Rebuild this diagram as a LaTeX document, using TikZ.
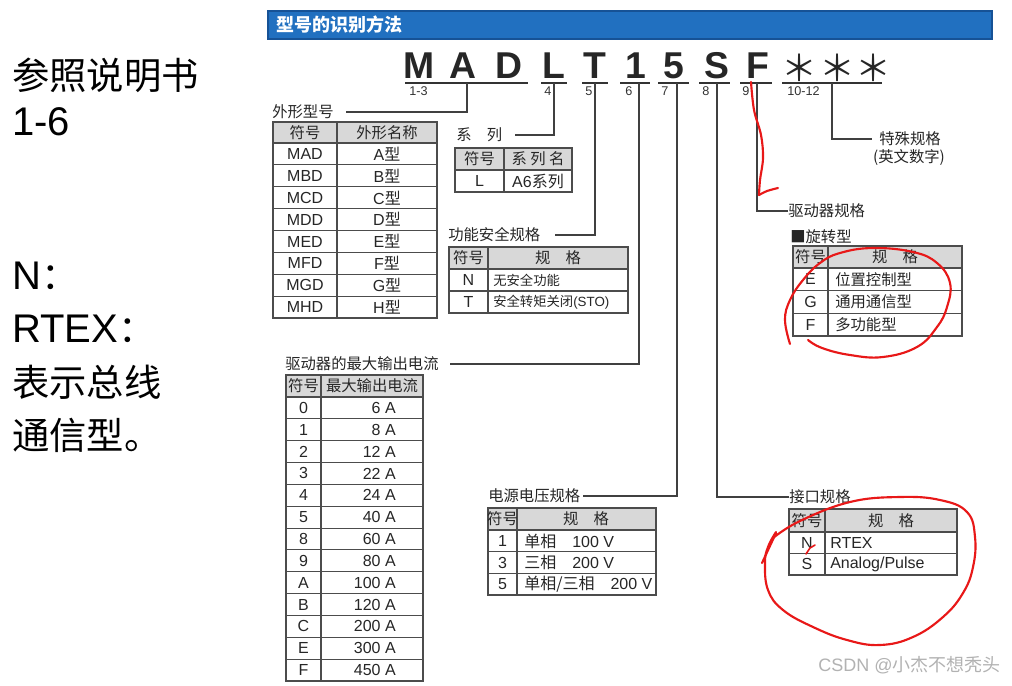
\documentclass[tikz,border=0pt]{standalone}
\usepackage{fontspec}
\setmainfont{Liberation Sans}
\newfontfamily\cjk{Noto Sans CJK SC}
\newcommand{\zh}[1]{{\cjk #1}}
\definecolor{hdrblue}{RGB}{33,112,192}
\definecolor{hdredge}{RGB}{22,82,150}
\definecolor{headgray}{RGB}{216,216,216}
\definecolor{penred}{RGB}{232,24,24}
\newcommand{\drawtab}[7]{%
  \fill[headgray] (#1,#4) rectangle (#3,#5);
  \foreach \k in {0,...,#7}{\draw[rowline] (#1,{#5+\k*#6}) -- (#3,{#5+\k*#6});}
  \draw[rowline] (#2,#4) -- (#2,{#5+#7*#6});
  \draw[tabframe] (#1,#4) rectangle (#3,{#5+#7*#6});
}
\tikzset{
  lbl/.style={inner sep=0pt, font=\fontsize{11.5}{13}\selectfont\cjk, text=black!85},
  cell/.style={inner sep=0pt, font=\fontsize{11.5}{13}\selectfont\cjk, text=black!85},
  scell/.style={inner sep=0pt, font=\fontsize{10}{12}\selectfont\cjk, text=black!85},
  lcell/.style={inner sep=0pt, font=\fontsize{12}{14}\selectfont, text=black!85},
  bigch/.style={inner sep=0pt, font=\fontsize{28}{30}\selectfont\bfseries, text=black!85, anchor=base},
  star/.style={inner sep=0pt, font=\fontsize{27}{30}\selectfont\cjk, text=black!85, anchor=base},
  num/.style={inner sep=0pt, font=\fontsize{9.5}{11}\selectfont, text=black!80, anchor=west},
  uline/.style={draw=black!80, line width=1.5pt},
  leader/.style={draw=black!75, line width=1.1pt},
  rowline/.style={draw=black!70, line width=0.8pt},
  tabframe/.style={draw=black!70, line width=1.2pt},
  side/.style={inner sep=0pt, anchor=west, font=\fontsize{30}{32}\selectfont, text=black},
  redpen/.style={draw=penred, line width=1.6pt, line cap=round, line join=round},
}
\begin{document}
\begin{tikzpicture}[x=0.75pt,y=-0.75pt]
\useasboundingbox (0,0) rectangle (1012,685);
\fill[white] (0,0) rectangle (1012,685);

% header bar
\fill[hdrblue] (268,11) rectangle (992,39);
\draw[hdredge, line width=0.8pt] (268,11) rectangle (992,39);
\node[inner sep=0pt, anchor=west, text=white, font=\fontsize{13.5}{15}\selectfont\cjk\bfseries] (title) at (276,25) {型号的识别方法};

% left notes
\node[side] (s1) at (12,75) {\fontsize{28}{30}\selectfont\cjk 参照说明书};
\node[side] (s2) at (12,122) {1-6};
\node[side] (s3) at (12,276) {N\zh{\fontsize{28}{30}\selectfont ：}};
\node[side] (s4) at (12,329) {RTEX\zh{\fontsize{28}{30}\selectfont ：}};
\node[side] (s5) at (12,382) {\fontsize{28}{30}\selectfont\cjk 表示总线};
\node[side] (s6) at (12,435) {\fontsize{28}{30}\selectfont\cjk 通信型。};

% model code
\node[bigch] (cM) at (419,79) {M};
\node[bigch] (cA) at (463,79) {A};
\node[bigch] (cD) at (509,79) {D};
\node[bigch] (cL) at (554,79) {L};
\node[bigch] (cT) at (595,79) {T};
\node[bigch] (c1) at (636,79) {1};
\node[bigch] (c5) at (674,79) {5};
\node[bigch] (cS) at (717,79) {S};
\node[bigch] (cF) at (758,79) {F};
\node[star] (cx1) at (799,81) {＊};
\node[star] (cx2) at (837,81) {＊};
\node[star] (cx3) at (873,81) {＊};

% underlines
\draw[uline] (405,83) -- (528,83);
\draw[uline] (541,83) -- (567,83);
\draw[uline] (582,83) -- (608,83);
\draw[uline] (620,83) -- (650,83);
\draw[uline] (658,83) -- (689,83);
\draw[uline] (699,83) -- (730,83);
\draw[uline] (740,83) -- (772,83);
\draw[uline] (782,83) -- (882,83);

\node[num] (n13) at (409,91) {1-3};
\node[num] (n4) at (544,91) {4};
\node[num] (n5) at (585,91) {5};
\node[num] (n6) at (625,91) {6};
\node[num] (n7) at (661,91) {7};
\node[num] (n8) at (702,91) {8};
\node[num] (n9) at (742,91) {9};
\node[num] (n10) at (787,91) {10-12};

\coordinate (u13) at (467,83);
\coordinate (u4) at (554,83);
\coordinate (u5) at (595,83);
\coordinate (u6) at (639,83);
\coordinate (u7) at (677,83);
\coordinate (u8) at (717,83);
\coordinate (u9) at (757,83);
\coordinate (u10) at (832,83);

% labels
\node[lbl, anchor=west] (lab1) at (272,112) {外形型号};
\node[lbl, anchor=west] (lab4) at (456,135) {系　列};
\node[lbl, anchor=west] (lab5) at (448,235) {功能安全规格};
\node[lbl, anchor=west] (lab6) at (285,364) {驱动器的最大输出电流};
\node[lbl, anchor=west] (lab7) at (488,496) {电源电压规格};
\node[lbl, anchor=west] (lab8) at (789,497) {接口规格};
\node[lbl, anchor=west] (lab9) at (788,211) {驱动器规格};
\node[lbl] (lab10a) at (910,139) {特殊规格};
\node[lbl] (lab10b) at (909,158) {(英文数字)};
\node[lbl, anchor=west] (labrot) at (790,237) {■旋转型};

\draw[leader] (u13) |- ([xshift=9pt]lab1.east);
\draw[leader] (u4) |- ([xshift=9pt]lab4.east);
\draw[leader] (u5) |- ([xshift=11pt]lab5.east);
\draw[leader] (u6) |- ([xshift=8pt]lab6.east);
\draw[leader] (u7) |- ([xshift=2pt]lab7.east);
\draw[leader] (u8) |- (lab8.west);
\draw[leader] (u9) |- (lab9.west);
\draw[leader] (u10) |- ([xshift=-5pt]lab10a.west);

% table: outer shape
\drawtab{273}{337}{437}{122}{143}{21.9}{8}
\node[cell] (ah1) at (305,132.5) {符号};
\node[cell] (ah2) at (387,132.5) {外形名称};
\foreach \a/\b [count=\i] in {MAD/A,MBD/B,MCD/C,MDD/D,MED/E,MFD/F,MGD/G,MHD/H}{
  \node[lcell] (aa\i) at (305,{143+21.9*(\i-0.5)}) {\a};
  \node[lcell] (ab\i) at (387,{143+21.9*(\i-0.5)}) {\b\zh{型}};
}

% table: series
\drawtab{455}{504}{572}{148}{170}{22}{1}
\node[cell] (bh1) at (479.5,159) {符号};
\node[cell] (bh2) at (538,159) {系 列 名};
\node[lcell] (ba1) at (479.5,181) {L};
\node[lcell] (bb1) at (538,181) {A6\zh{系列}};

% table: safety
\drawtab{449}{488}{628}{247}{269}{22}{2}
\node[cell] (fh1) at (468.5,258) {符号};
\node[cell] (fh2) at (558,258) {规　格};
\node[lcell] (fa1) at (468.5,280) {N};
\node[scell, anchor=west] (fb1) at (493,280) {无安全功能};
\node[lcell] (fa2) at (468.5,302) {T};
\node[scell, anchor=west] (fb2) at (493,302) {安全转矩关闭\fontspec{Liberation Sans}(STO)};

% table: max current
\drawtab{286}{321}{423}{375}{397}{21.85}{13}
\node[cell] (ih1) at (303.5,386) {符号};
\node[cell] (ih2) at (372,386) {最大输出电流};
\foreach \a/\b [count=\i] in {0/6,1/8,2/12,3/22,4/24,5/40,8/60,9/80,A/100,B/120,C/200,E/300,F/450}{
  \node[lcell] (ia\i) at (303.5,{397+21.85*(\i-0.5)}) {\a};
  \node[lcell, anchor=east] (ib\i) at (396,{397+21.85*(\i-0.5)}) {\b\ A};
}

% table: supply voltage
\drawtab{488}{517}{656}{508}{530}{21.7}{3}
\node[cell] (vh1) at (502.5,519) {符号};
\node[cell] (vh2) at (586,519) {规　格};
\node[lcell] (va1) at (502.5,541) {1};
\node[lcell, anchor=west] (vb1) at (524,541) {\zh{单相}\quad 100 V};
\node[lcell] (va2) at (502.5,562.5) {3};
\node[lcell, anchor=west] (vb2) at (524,562.5) {\zh{三相}\quad 200 V};
\node[lcell] (va3) at (502.5,584) {5};
\node[lcell, anchor=west] (vb3) at (524,584) {\zh{单相/三相}\quad 200 V};

% table: rotary drive
\drawtab{793}{828}{962}{246}{268}{22.6}{3}
\node[cell] (rh1) at (810.5,257) {符号};
\node[cell] (rh2) at (895,257) {规　格};
\node[lcell] (ra1) at (810.5,279.3) {E};
\node[cell, anchor=west] (rb1) at (835,279.3) {位置控制型};
\node[lcell] (ra2) at (810.5,301.9) {G};
\node[cell, anchor=west] (rb2) at (835,301.9) {通用通信型};
\node[lcell] (ra3) at (810.5,324.5) {F};
\node[cell, anchor=west] (rb3) at (835,324.5) {多功能型};

% table: interface
\drawtab{789}{825}{957}{509}{532}{21.5}{2}
\node[cell] (kh1) at (807,520.5) {符号};
\node[cell] (kh2) at (891,520.5) {规　格};
\node[lcell] (ka1) at (807,542.8) {N};
\node[lcell, anchor=west] (kb1) at (830,542.8) {RTEX};
\node[lcell] (ka2) at (807,564.3) {S};
\node[lcell, anchor=west] (kb2) at (830,564.3) {Analog/Pulse};

% red annotations
\draw[redpen] plot[smooth, tension=0.6] coordinates {(751,82) (754,110) (761,135) (763,158) (760,180) (759,195)};
\draw[redpen] plot[smooth, tension=0.5] coordinates {(759,195) (767,191) (778,188)};
\draw[redpen] plot[smooth, tension=0.7] coordinates {(790,344) (785,320) (790,300) (803,280) (820,263) (840,253) (873,248) (913,252) (937,263) (950,283) (947,307) (937,327) (917,347) (883,357) (850,355) (822,348) (808,340)};
\draw[redpen] plot[smooth, tension=0.7] coordinates {(773,538) (800,521) (850,502) (900,497) (940,500) (967,512) (975,537) (973,567) (963,593) (943,617) (913,637) (880,645) (847,640) (813,627) (783,610) (768,590) (765,563) (768,547) (776,532)};
\draw[redpen] (762,563) -- (776,533);
\draw[redpen, line width=1.2pt] (806,554) -- (810,548) -- (815,545);

% watermark
\node[inner sep=0pt, anchor=west, text=black!30, font=\fontsize{13.5}{15}\selectfont] (wm) at (818,665) {CSDN @\zh{小杰不想秃头}};
\end{tikzpicture}
\end{document}
